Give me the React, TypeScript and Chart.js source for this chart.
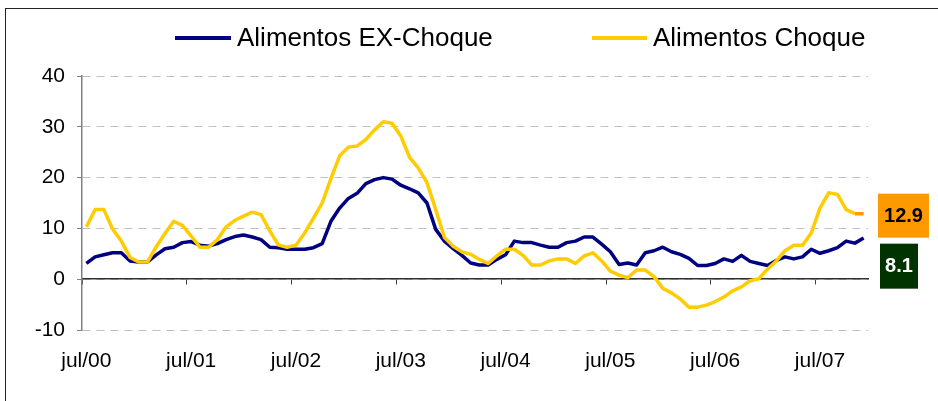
import React, { useEffect, useRef } from 'react';
import { Chart, registerables } from 'chart.js';

Chart.register(...registerables);

const MONTHS = ['jul', 'ago', 'sep', 'oct', 'nov', 'dic', 'ene', 'feb', 'mar', 'abr', 'may', 'jun'];
const START_YEAR = 2000;
const N_MONTHS = 90;
const categories: string[] = Array.from({ length: N_MONTHS }, (_, i) => {
  const m = MONTHS[i % 12];
  const yr = START_YEAR + Math.floor((i + 6) / 12);
  return `${m}/${String(yr % 100).padStart(2, '0')}`;
});

const exChoque: number[] = [
  3.1, 4.4, 4.8, 5.2, 5.2, 3.6, 3.4, 3.4, 4.8, 6.0, 6.3, 7.2,
  7.4, 6.7, 6.5, 7.0, 7.8, 8.4, 8.7, 8.3, 7.8, 6.3, 6.2, 5.9,
  5.9, 5.9, 6.2, 7.0, 11.4, 14.0, 15.9, 16.9, 18.8, 19.6, 20.0, 19.7,
  18.5, 17.8, 17.0, 15.0, 9.8, 7.5, 6.0, 4.7, 3.2, 2.8, 2.8, 3.9,
  4.8, 7.5, 7.2, 7.2, 6.7, 6.3, 6.3, 7.2, 7.5, 8.3, 8.3, 6.9,
  5.4, 2.9, 3.2, 2.8, 5.2, 5.6, 6.3, 5.4, 4.9, 4.1, 2.7, 2.7,
  3.1, 4.0, 3.5, 4.7, 3.5, 3.1, 2.7, 3.7, 4.4, 4.0, 4.4, 5.9,
  5.1, 5.6, 6.2, 7.5, 7.1, 8.1,
];

const choque: number[] = [
  10.3, 13.7, 13.7, 9.9, 7.5, 4.3, 3.4, 3.4, 6.4, 9.0, 11.4, 10.6,
  8.5, 6.3, 6.3, 7.8, 10.3, 11.6, 12.4, 13.2, 12.7, 9.5, 6.7, 6.3,
  6.7, 9.1, 12.0, 15.0, 19.8, 24.3, 26.0, 26.2, 27.5, 29.4, 31.0, 30.7,
  28.2, 24.0, 21.9, 19.0, 13.7, 8.2, 6.5, 5.4, 4.9, 3.9, 3.1, 4.6,
  5.9, 5.9, 4.7, 2.8, 2.8, 3.6, 4.0, 4.0, 3.1, 4.6, 5.2, 3.6,
  1.6, 0.8, 0.3, 1.8, 1.8, 0.5, -1.8, -2.7, -3.9, -5.5, -5.5, -5.1,
  -4.4, -3.5, -2.3, -1.5, -0.3, 0.1, 2.0, 3.6, 5.6, 6.7, 6.7, 9.1,
  14.0, 17.0, 16.7, 13.7, 12.9, 12.9,
];

const Y_MIN = -10;
const Y_MAX = 40;
const Y_STEP = 10;
const TICK_EVERY = 12;

const SERIES_NAMES = ['Alimentos EX-Choque', 'Alimentos Choque'];
const BLUE = '#000080';
const YELLOW = '#FFCC00';
const ORANGE = '#FF9900';
const GREEN = '#003300';
const FONT = '"Liberation Sans", Arial, sans-serif';

const valueBoxes = {
  id: 'valueBoxes',
  afterDraw(chart: any) {
    const { ctx, chartArea, scales } = chart;
    const y = scales.y;
    const lastChoque = choque[choque.length - 1];
    const lastEx = exChoque[exChoque.length - 1];
    const cy = y.getPixelForValue(lastChoque) + 2;
    const ox = chartArea.right + 10;
    const oTop = cy - 22;
    ctx.save();
    ctx.fillStyle = ORANGE;
    ctx.fillRect(ox, oTop, 51, 44);
    ctx.font = `bold 20px ${FONT}`;
    ctx.textAlign = 'center';
    ctx.textBaseline = 'middle';
    ctx.fillStyle = '#000';
    ctx.fillText(lastChoque.toFixed(1), ox + 25.5, oTop + 23);
    const gTop = oTop + 44 + 6;
    const gx = ox + 2;
    ctx.fillStyle = GREEN;
    ctx.fillRect(gx, gTop, 38, 45);
    ctx.fillStyle = '#fff';
    ctx.fillText(lastEx.toFixed(1), gx + 19, gTop + 23);
    ctx.restore();
  },
};

function LegendItem({ color, label, lineLeft, textLeft }: { color: string; label: string; lineLeft: number; textLeft: number }) {
  return (
    <>
      <div style={{ position: 'absolute', left: lineLeft, top: 36, width: textLeft - lineLeft - 6, height: 4, background: color }} />
      <div style={{ position: 'absolute', left: textLeft, top: 22, fontFamily: FONT, fontSize: 26, lineHeight: '30px', color: '#000', whiteSpace: 'nowrap' }}>{label}</div>
    </>
  );
}

export default function App() {
  const ref = useRef<HTMLCanvasElement | null>(null);

  useEffect(() => {
    if (!ref.current) return;
    const chart = new Chart(ref.current, {
      type: 'line',
      data: {
        labels: categories,
        datasets: [
          {
            label: SERIES_NAMES[0],
            data: exChoque,
            borderColor: BLUE,
            backgroundColor: BLUE,
            borderWidth: 3.5,
            pointRadius: 0,
            tension: 0,
            borderJoinStyle: 'round',
            order: 2,
            xAxisID: 'x',
          },
          {
            label: SERIES_NAMES[1],
            data: choque,
            borderColor: YELLOW,
            backgroundColor: YELLOW,
            borderWidth: 3.5,
            pointRadius: 0,
            tension: 0,
            borderJoinStyle: 'round',
            order: 1,
            xAxisID: 'x',
            segment: {
              borderColor: (c: any) => (c.p0DataIndex >= choque.length - 2 ? ORANGE : undefined),
            },
          },
        ],
      },
      options: {
        responsive: false,
        animation: false,
        layout: { padding: { left: 0, right: 70, top: 76, bottom: 0 } },
        plugins: { legend: { display: false }, tooltip: { enabled: false } },
        scales: {
          x: {
            type: 'category',
            position: { y: 0 } as any,
            offset: true,
            grid: {
              display: true,
              drawOnChartArea: false,
              drawTicks: true,
              tickLength: 5,
              offset: true,
              tickWidth: 1,
              tickColor: (c: any) => (c.index % TICK_EVERY === 0 ? '#404040' : 'rgba(0,0,0,0)'),
            },
            border: { display: true, color: '#303030', width: 1.5 },
            ticks: { display: false },
          },
          x2: {
            type: 'category',
            position: 'bottom',
            offset: true,
            grid: { display: false, drawTicks: false },
            border: { display: false },
            ticks: {
              autoSkip: false,
              maxRotation: 0,
              minRotation: 0,
              padding: 19,
              color: '#000',
              font: { family: FONT, size: 21 },
              callback: (_v: any, i: number) => (i % TICK_EVERY === 0 ? categories[i] : ''),
            },
            afterFit: (s: any) => {
              s.height = 71;
            },
          },
          y: {
            min: Y_MIN,
            max: Y_MAX,
            ticks: {
              stepSize: Y_STEP,
              padding: 12,
              color: '#000',
              font: { family: FONT, size: 21 },
            },
            grid: {
              color: '#c0c0c0',
              lineWidth: 1,
              tickLength: 5,
              tickColor: '#808080',
              tickBorderDash: [],
            },
            border: { display: true, color: '#808080', width: 1.5, dash: [8, 6] },
            afterFit: (s: any) => {
              s.width = 82;
            },
          },
        },
      },
      plugins: [valueBoxes],
    } as any);
    return () => chart.destroy();
  }, []);

  return (
    <div style={{ position: 'absolute', left: 0, top: 0, width: 938, height: 401, overflow: 'hidden', background: '#fff' }}>
      <div style={{ position: 'absolute', left: 5, top: 8, width: 1000, height: 500, border: '1px solid #222', boxSizing: 'border-box' }} />
      <canvas ref={ref} width={938} height={401} style={{ position: 'absolute', left: 0, top: 0, width: 938, height: 401 }} />
      <LegendItem color={BLUE} label={SERIES_NAMES[0]} lineLeft={175} textLeft={237} />
      <LegendItem color={YELLOW} label={SERIES_NAMES[1]} lineLeft={592} textLeft={653} />
    </div>
  );
}
